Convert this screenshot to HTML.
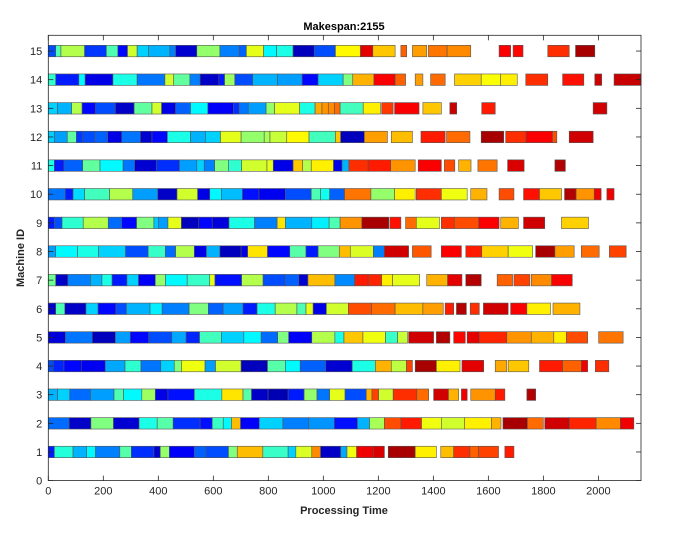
<!DOCTYPE html>
<html><head><meta charset="utf-8"><style>
html,body{margin:0;padding:0;background:#fff;}
svg{display:block;font-family:"Liberation Sans",Arial,sans-serif;}
</style></head><body>
<svg id="chart" width="674" height="535" viewBox="0 0 674 535" xmlns="http://www.w3.org/2000/svg">
<rect x="0" y="0" width="674" height="535" fill="#fff"/>
<text x="344" y="30" text-anchor="middle" font-size="11" font-weight="bold" fill="#000">Makespan:2155</text>
<g id="bars"></g>
<g id="axes"></g>
<text x="344" y="514" text-anchor="middle" font-size="11" font-weight="bold" fill="#262626">Processing Time</text>
<text x="0" y="0" transform="translate(24,258) rotate(-90)" text-anchor="middle" font-size="11" font-weight="bold" fill="#262626">Machine ID</text>
</svg>
<script>
// Data: each operation [start, end, colorValue(0..1 jet)]
const m1=[[0,22,0.15],[22,90,0.41],[90,139,0.3],[139,172,0.37],[172,260,0.25],[260,302,0.46],[302,384,0.17],[384,407,0.08],[407,440,0.52],[440,531,0.12],[531,573,0.22],[573,655,0.2],[655,687,0.5],[687,780,0.69],[780,872,0.43],[872,900,0.33],[900,958,0.59],[958,990,0.74],[990,1063,0.07],[1063,1086,0.29],[1086,1121,0.61],[1121,1182,0.89],[1182,1222,0.91],[1236,1334,0.96],[1334,1411,0.64],[1427,1474,0.69],[1474,1533,0.83],[1533,1564,0.78],[1564,1637,0.81],[1660,1693,0.85]];
const m2=[[0,76,0.23],[76,155,0.07],[155,237,0.5],[237,330,0.08],[330,396,0.4],[396,454,0.46],[454,552,0.17],[552,596,0.14],[596,636,0.43],[636,666,0.37],[666,699,0.69],[699,767,0.12],[767,853,0.33],[853,946,0.25],[946,1040,0.27],[1040,1124,0.14],[1124,1168,0.3],[1168,1222,0.54],[1222,1282,0.8],[1282,1357,0.85],[1357,1429,0.61],[1429,1513,0.58],[1513,1611,0.64],[1611,1646,0.7],[1653,1742,0.96],[1742,1800,0.77],[1805,1895,0.92],[1895,1992,0.84],[1992,2080,0.74],[2080,2129,0.89]];
const m3=[[0,34,0.3],[34,78,0.33],[78,153,0.23],[153,239,0.28],[239,274,0.45],[274,340,0.37],[340,389,0.53],[389,435,0.1],[435,531,0.14],[531,631,0.4],[631,708,0.65],[708,739,0.46],[739,799,0.07],[799,872,0.05],[872,930,0.15],[930,977,0.52],[977,1023,0.24],[1023,1079,0.6],[1079,1156,0.2],[1156,1177,0.7],[1177,1201,0.81],[1201,1254,0.58],[1254,1340,0.83],[1340,1383,0.77],[1401,1455,0.92],[1455,1492,0.7],[1502,1523,0.89],[1536,1625,0.73],[1625,1660,0.85],[1740,1772,0.95]];
const m4=[[0,18,0.2],[18,57,0.16],[57,120,0.13],[120,207,0.11],[207,279,0.29],[279,337,0.42],[337,409,0.24],[409,458,0.33],[458,484,0.5],[484,570,0.61],[570,608,0.28],[608,701,0.58],[701,797,0.06],[797,862,0.46],[862,916,0.37],[916,1009,0.22],[1009,1105,0.08],[1105,1189,0.4],[1189,1247,0.7],[1247,1302,0.56],[1302,1324,0.81],[1334,1411,0.96],[1411,1497,0.64],[1504,1583,0.9],[1625,1667,0.71],[1672,1747,0.68],[1786,1870,0.85],[1870,1938,0.78],[1938,1961,0.89],[1989,2038,0.83]];
const m5=[[0,62,0.09],[62,160,0.24],[160,244,0.06],[244,298,0.28],[298,365,0.13],[365,449,0.2],[449,501,0.29],[501,550,0.16],[550,629,0.44],[629,711,0.33],[711,774,0.37],[774,834,0.23],[834,874,0.5],[874,958,0.12],[958,1042,0.55],[1042,1075,0.4],[1075,1144,0.68],[1144,1226,0.61],[1226,1270,0.43],[1270,1306,0.57],[1310,1401,0.92],[1411,1460,0.95],[1474,1516,0.87],[1523,1567,0.9],[1567,1667,0.84],[1667,1756,0.73],[1756,1838,0.7],[1838,1884,0.64],[1884,1961,0.8],[2001,2090,0.76]];
const m6=[[0,27,0.08],[27,60,0.45],[60,137,0.07],[137,181,0.33],[181,246,0.13],[246,284,0.2],[284,370,0.3],[370,414,0.36],[414,512,0.25],[512,582,0.5],[582,636,0.22],[636,708,0.28],[708,759,0.15],[759,825,0.4],[825,904,0.55],[904,937,0.45],[937,963,0.6],[963,1011,0.1],[1011,1091,0.58],[1091,1175,0.8],[1175,1261,0.77],[1261,1362,0.69],[1362,1436,0.72],[1443,1474,0.85],[1484,1520,0.95],[1534,1567,0.83],[1582,1672,0.92],[1681,1740,0.88],[1740,1826,0.64],[1835,1933,0.7]];
const m7=[[0,27,0.48],[27,71,0.07],[71,153,0.25],[153,195,0.3],[195,232,0.4],[232,286,0.15],[286,328,0.33],[328,389,0.12],[389,426,0.52],[426,505,0.37],[505,587,0.43],[587,606,0.6],[606,703,0.14],[703,781,0.55],[781,862,0.2],[862,911,0.22],[911,944,0.08],[944,1042,0.69],[1042,1114,0.26],[1114,1163,0.85],[1163,1212,0.84],[1212,1252,0.64],[1252,1350,0.6],[1376,1452,0.7],[1452,1504,0.9],[1518,1574,0.95],[1632,1688,0.78],[1693,1751,0.81],[1756,1830,0.74],[1830,1905,0.88]];
const m8=[[0,27,0.28],[27,106,0.37],[106,183,0.4],[183,281,0.33],[281,363,0.2],[363,426,0.43],[426,463,0.23],[463,531,0.55],[531,575,0.1],[575,624,0.3],[624,701,0.06],[701,725,0.1],[725,797,0.65],[797,878,0.13],[878,937,0.46],[937,981,0.15],[981,1058,0.5],[1058,1098,0.69],[1098,1182,0.59],[1182,1222,0.25],[1222,1310,0.92],[1324,1392,0.79],[1429,1502,0.88],[1518,1576,0.85],[1576,1672,0.67],[1672,1761,0.61],[1772,1842,0.96],[1842,1912,0.72],[1938,2003,0.77],[2040,2101,0.81]];
const m9=[[0,22,0.15],[22,50,0.2],[50,127,0.42],[127,218,0.55],[218,267,0.23],[267,321,0.13],[321,384,0.5],[384,400,0.32],[400,435,0.28],[435,484,0.6],[484,547,0.06],[547,596,0.13],[596,657,0.09],[657,750,0.4],[750,832,0.25],[832,862,0.65],[862,958,0.3],[958,1021,0.36],[1021,1061,0.45],[1061,1140,0.73],[1140,1238,0.96],[1242,1282,0.86],[1299,1338,0.77],[1338,1422,0.6],[1429,1476,0.83],[1476,1565,0.8],[1565,1639,0.88],[1645,1709,0.7],[1728,1805,0.92],[1866,1964,0.67]];
const m10=[[0,62,0.24],[62,90,0.15],[90,132,0.34],[132,223,0.44],[223,307,0.55],[307,398,0.28],[398,468,0.07],[468,543,0.58],[543,587,0.1],[587,629,0.37],[629,706,0.31],[706,766,0.14],[766,862,0.11],[862,956,0.2],[956,990,0.45],[990,1023,0.39],[1023,1077,0.22],[1077,1173,0.76],[1173,1259,0.52],[1259,1334,0.64],[1338,1429,0.83],[1429,1523,0.61],[1536,1595,0.7],[1639,1693,0.8],[1728,1786,0.86],[1786,1866,0.68],[1877,1919,0.95],[1919,1985,0.73],[1985,2010,0.89],[2031,2057,0.89]];
const m11=[[0,22,0.4],[22,57,0.15],[57,125,0.22],[125,188,0.47],[188,272,0.37],[272,314,0.24],[314,393,0.08],[393,477,0.17],[477,540,0.28],[540,567,0.33],[567,605,0.25],[605,655,0.5],[655,703,0.42],[703,795,0.58],[795,818,0.6],[818,890,0.1],[890,925,0.68],[925,956,0.55],[956,1037,0.64],[1037,1068,0.1],[1068,1093,0.3],[1093,1163,0.83],[1163,1245,0.85],[1245,1334,0.73],[1345,1429,0.88],[1440,1478,0.8],[1492,1537,0.7],[1562,1632,0.76],[1670,1730,0.91],[1842,1880,0.95]];
const m12=[[0,22,0.33],[22,69,0.28],[69,102,0.47],[102,125,0.18],[125,169,0.2],[169,216,0.22],[216,267,0.1],[267,335,0.24],[335,377,0.08],[377,433,0.13],[433,517,0.4],[517,571,0.3],[571,626,0.33],[626,701,0.6],[701,785,0.52],[785,806,0.54],[806,867,0.57],[867,948,0.63],[948,1044,0.44],[1044,1063,0.68],[1063,1149,0.06],[1149,1233,0.72],[1247,1324,0.69],[1355,1443,0.85],[1448,1533,0.77],[1574,1656,0.96],[1663,1737,0.83],[1737,1833,0.88],[1833,1849,0.8],[1894,1981,0.92]];
const m13=[[0,34,0.33],[34,85,0.3],[85,123,0.55],[123,172,0.13],[172,244,0.2],[244,312,0.07],[312,377,0.47],[377,412,0.58],[412,463,0.1],[463,517,0.22],[517,580,0.37],[580,673,0.12],[673,694,0.17],[694,727,0.24],[727,792,0.28],[792,823,0.52],[823,914,0.6],[914,970,0.4],[970,995,0.71],[995,1018,0.73],[1018,1040,0.74],[1040,1061,0.77],[1061,1145,0.44],[1145,1208,0.64],[1212,1254,0.82],[1259,1348,0.88],[1362,1429,0.68],[1460,1485,0.93],[1576,1625,0.85],[1981,2031,0.92]];
const m14=[[0,27,0.42],[27,111,0.15],[111,134,0.37],[134,235,0.1],[235,323,0.4],[323,424,0.24],[424,456,0.58],[456,515,0.47],[515,552,0.25],[552,620,0.07],[620,641,0.15],[641,678,0.53],[678,743,0.2],[743,833,0.3],[833,923,0.28],[923,981,0.13],[981,1072,0.33],[1072,1107,0.5],[1107,1184,0.7],[1184,1261,0.88],[1261,1299,0.78],[1334,1362,0.72],[1390,1443,0.77],[1477,1574,0.67],[1574,1644,0.62],[1644,1705,0.64],[1736,1816,0.83],[1870,1947,0.86],[1987,2012,0.92],[2057,2155,0.93]];
const m15=[[0,27,0.2],[27,46,0.45],[46,132,0.55],[132,211,0.18],[211,253,0.45],[253,288,0.13],[288,323,0.58],[323,365,0.33],[365,442,0.3],[442,463,0.25],[463,540,0.08],[540,624,0.52],[624,694,0.25],[694,720,0.22],[720,783,0.6],[783,830,0.37],[830,890,0.4],[890,967,0.06],[967,1044,0.2],[1044,1135,0.63],[1135,1180,0.9],[1180,1261,0.68],[1282,1303,0.78],[1324,1376,0.72],[1382,1450,0.76],[1450,1536,0.74],[1639,1681,0.88],[1690,1726,0.87],[1816,1894,0.83],[1917,1987,0.96]];
const machines=[m1,m2,m3,m4,m5,m6,m7,m8,m9,m10,m11,m12,m13,m14,m15];
const xTicks=[0,200,400,600,800,1000,1200,1400,1600,1800,2000];
const yTicks=[0,1,2,3,4,5,6,7,8,9,10,11,12,13,14,15];
const xMax=2155, yMax=15.55, barH=0.4;

const L=48.3,R=641,T=35.3,B=480.6;
const xS=v=>L+(v/xMax)*(R-L);
const yS=v=>B-(v/yMax)*(B-T);
function jet(x){
  const c=v=>Math.round(255*Math.max(0,Math.min(1,v)));
  return `rgb(${c(1.5-Math.abs(4*x-3))},${c(1.5-Math.abs(4*x-2))},${c(1.5-Math.abs(4*x-1))})`;
}
const NS="http://www.w3.org/2000/svg";
const bars=document.getElementById('bars');
machines.forEach((ops,mi)=>{
  const id=mi+1;
  ops.forEach((op,oi)=>{
    const r=document.createElementNS(NS,'rect');
    const y0=yS(id+barH/2), y1=yS(id-barH/2);
    r.setAttribute('x',xS(op[0]));
    r.setAttribute('y',y0);
    r.setAttribute('width',Math.max(0.5,xS(op[1])-xS(op[0])));
    r.setAttribute('height',y1-y0);
    r.setAttribute('fill',jet(op[2]));
    r.setAttribute('stroke','#555');
    r.setAttribute('stroke-width','0.6');
    
    
    bars.appendChild(r);
  });
});
const axes=document.getElementById('axes');
function add(tag,attrs,text){
  const e=document.createElementNS(NS,tag);
  for(const k in attrs)e.setAttribute(k,attrs[k]);
  if(text!==undefined)e.textContent=text;
  axes.appendChild(e);return e;
}
const box=add('rect',{x:L,y:T,width:R-L,height:B-T,fill:'none',stroke:'#262626','stroke-width':'0.8'});


xTicks.forEach(v=>{
  const x=xS(v);
  const t=add('line',{x1:x,x2:x,y1:B,y2:B-5,stroke:'#262626','stroke-width':'0.8'});
  
  
  const t2=add('line',{x1:x,x2:x,y1:T,y2:T+5,stroke:'#262626','stroke-width':'0.8'});
  
  
  const lb=add('text',{x:x,y:B+14,'text-anchor':'middle','font-size':'11',fill:'#262626'},String(v));
  
  
});
yTicks.forEach(v=>{
  const y=yS(v);
  const t=add('line',{x1:L,x2:L+5,y1:y,y2:y,stroke:'#262626','stroke-width':'0.8'});
  
  
  const t2=add('line',{x1:R,x2:R-5,y1:y,y2:y,stroke:'#262626','stroke-width':'0.8'});
  
  
  const lb=add('text',{x:L-6,y:y+4,'text-anchor':'end','font-size':'11',fill:'#262626'},String(v));
  
  
});
</script>
</body></html>
